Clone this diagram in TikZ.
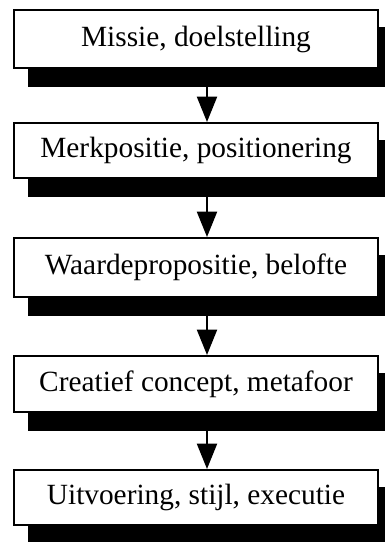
\documentclass[tikz,border=0pt]{standalone}
\usepackage{fontspec}
\setmainfont{Liberation Serif}
\usetikzlibrary{arrows.meta,calc,backgrounds}
\begin{document}
\begin{tikzpicture}[x=0.75pt,y=-0.75pt,
  stepbox/.style={draw=black,fill=white,line width=1.5pt,minimum width=273pt,inner sep=0pt,
    font=\fontsize{22}{26}\selectfont},
  flow/.style={line width=1.5pt,-{Triangle[width=15pt,length=19pt]}},
  shade/.style={fill=black}]
\clip (0,0) rectangle (385,542);
\node[stepbox,minimum height=43.5pt] (b1) at (196,39) {Missie, doelstelling};
\node[stepbox,minimum height=41.25pt] (b2) at (196,150.5) {Merkpositie, positionering};
\node[stepbox,minimum height=44.25pt] (b3) at (196,267.5) {Waardepropositie, belofte};
\node[stepbox,minimum height=42pt] (b4) at (196,384) {Creatief concept, metafoor};
\node[stepbox,minimum height=41.25pt] (b5) at (196,497.5) {Uitvoering, stijl, executie};
\begin{scope}[on background layer]
\foreach \b in {b1,b2,b3,b4,b5}{
  \fill[shade] ($(\b.south west)+(15,0)$) rectangle ($(\b.south east)+(12,18)$);
  \fill[shade] ($(\b.north east)+(0,18)$) rectangle ($(\b.south east)+(12,18)$);
}
\end{scope}
\draw[flow] ($(b1.south)+(11,0)$) -- ($(b2.north)+(11,0)$);
\draw[flow] ($(b2.south)+(11,0)$) -- ($(b3.north)+(11,0)$);
\draw[flow] ($(b3.south)+(11,0)$) -- ($(b4.north)+(11,0)$);
\draw[flow] ($(b4.south)+(11,0)$) -- ($(b5.north)+(11,0)$);
\end{tikzpicture}
\end{document}
